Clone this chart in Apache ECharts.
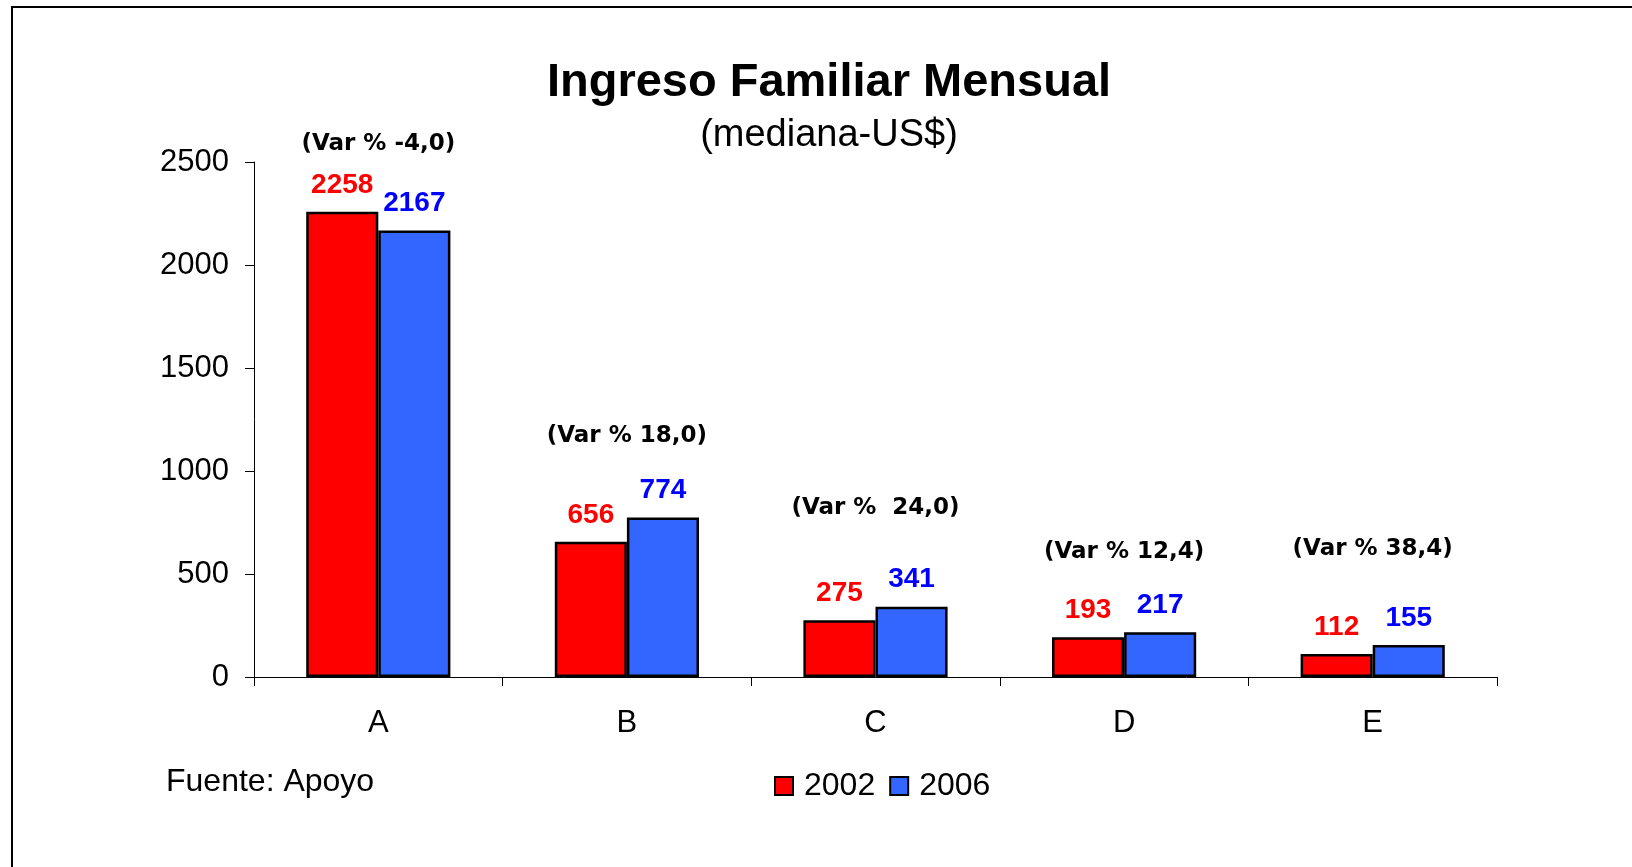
<!DOCTYPE html>
<html>
<head>
<meta charset="utf-8">
<script src="https://cdn.jsdelivr.net/npm/echarts@6/dist/echarts.min.js"></script>
<style>
  html, body { margin: 0; padding: 0; background: #fff; }
  #chart { width: 1632px; height: 867px; }
</style>
</head>
<body>
<div id="chart"></div>
<script>
var categories = ['A', 'B', 'C', 'D', 'E'];
var values2002 = [2258, 656, 275, 193, 112];
var values2006 = [2167, 774, 341, 217, 155];
var varLabels = ['(Var % -4,0)', '(Var % 18,0)', '(Var %  24,0)', '(Var % 12,4)', '(Var % 38,4)'];
// height (in axis units) where each variation note sits
var varAnchors = [2585, 1170, 820, 609, 621];
var yTicks = [0, 500, 1000, 1500, 2000, 2500];

var chart = echarts.init(document.getElementById('chart'));

var font = 'Liberation Sans, Arial, sans-serif';

var option = {
    animation: false,
    backgroundColor: '#fff',
    title: [
        {
            text: 'Ingreso Familiar Mensual',
            left: 824,
            top: 55,
            textAlign: 'center',
            textStyle: {fontFamily: font, fontSize: 47, fontWeight: 'bold', color: '#000'}
        },
        {
            text: '(mediana-US$)',
            left: 824,
            top: 112,
            textAlign: 'center',
            textStyle: {fontFamily: font, fontSize: 38, fontWeight: 'normal', color: '#000'}
        }
    ],
    legend: {
        data: ['2002', '2006'],
        left: 769,
        top: 765,
        itemWidth: 18,
        itemHeight: 18,
        itemGap: 14,
        icon: 'rect',
        textStyle: {fontFamily: font, fontSize: 32, color: '#000', padding: [0, 0, 0, 6]}
    },
    grid: {left: 254, right: 135, top: 162, bottom: 190},
    xAxis: {
        type: 'category',
        data: categories,
        axisLine: {lineStyle: {color: '#000', width: 1}},
        axisTick: {show: true, length: 9, lineStyle: {color: '#000'}},
        axisLabel: {fontFamily: font, fontSize: 31, color: '#000', margin: 31}
    },
    yAxis: {
        type: 'value',
        min: yTicks[0],
        max: yTicks[yTicks.length - 1],
        interval: 500,
        axisLine: {show: true, lineStyle: {color: '#000', width: 1}},
        axisTick: {show: true, length: 9, lineStyle: {color: '#000'}},
        axisLabel: {
            fontFamily: font, fontSize: 31, color: '#000', margin: 25,
            formatter: function (v) { return String(v); }
        },
        splitLine: {show: false}
    },
    series: [
        {
            name: '2002',
            type: 'bar',
            data: values2002,
            barGap: 0,
            barCategoryGap: '42%',
            itemStyle: {color: '#ff0000', borderColor: '#000', borderWidth: 2.5},
            label: {
                show: true,
                position: 'top',
                distance: 13,
                fontFamily: font,
                fontSize: 28,
                fontWeight: 'bold',
                color: '#ff0000'
            }
        },
        {
            name: '2006',
            type: 'bar',
            data: values2006,
            itemStyle: {color: '#3366ff', borderColor: '#000', borderWidth: 2.5},
            label: {
                show: true,
                position: 'top',
                distance: 13,
                fontFamily: font,
                fontSize: 28,
                fontWeight: 'bold',
                color: '#0000ff'
            }
        },
        {
            name: 'var',
            type: 'scatter',
            data: varAnchors,
            symbolSize: 0,
            clip: false,
            silent: true,
            itemStyle: {opacity: 1},
            label: {
                show: true,
                position: 'inside',
                formatter: function (p) { return varLabels[p.dataIndex]; },
                fontFamily: 'DejaVu Sans, sans-serif',
                fontSize: 23,
                fontWeight: 'bold',
                color: '#000',
                opacity: 1
            }
        }
    ],
    graphic: [
        {
            type: 'rect',
            shape: {x: 12, y: 7, width: 1700, height: 1000},
            style: {fill: 'none', stroke: '#000', lineWidth: 2},
            silent: true
        },
        {
            type: 'text',
            left: 166,
            top: 766,
            style: {text: 'Fuente: Apoyo', font: '32px ' + font, fill: '#000'}
        }
    ]
};

chart.setOption(option);
</script>
</body>
</html>
